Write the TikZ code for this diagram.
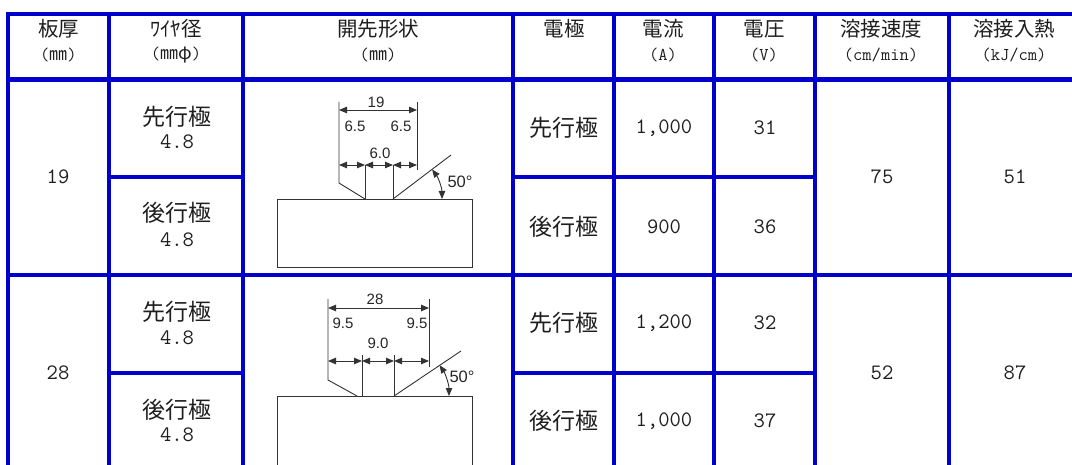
\documentclass[tikz,border=0pt]{standalone}
\usepackage{fontspec}
\usepackage{amsmath}
\usepackage{tikz}
\usetikzlibrary{arrows.meta}
\newfontfamily\jpfont{Noto Sans CJK JP}
\newfontfamily\dimfont{Liberation Sans}
\definecolor{gridblue}{RGB}{0,0,204}
\definecolor{inkgray}{RGB}{30,30,30}
\newcommand{\mmsq}{{\jpfont ㎜}}

\begin{document}
\begin{tikzpicture}[x=1pt, y=-1pt,
        grid/.style={gridblue, line width=3.2pt},
        gridthick/.style={gridblue, line width=4.8pt},
        head/.style={inkgray, inner sep=0pt, font=\jpfont\fontsize{20.5}{24}\selectfont},
        unit/.style={inkgray, inner sep=0pt, font=\ttfamily\fontsize{18}{20}\selectfont},
        cell/.style={inkgray, inner sep=0pt, font=\jpfont\fontsize{23}{26}\selectfont},
        num/.style={inkgray, inner sep=0pt, font=\ttfamily\fontsize{22}{24}\selectfont},
        sketch/.style={black!80, line width=0.9pt},
        dimline/.style={sketch, {Triangle[length=8pt,width=6.5pt]}-{Triangle[length=8pt,width=6.5pt]}},
        dimtext/.style={black!85, inner sep=0pt, font=\dimfont\fontsize{15}{17}\selectfont},
        angtext/.style={dimtext, font=\dimfont\fontsize{16.5}{18}\selectfont}]
        \useasboundingbox (0,0) rectangle (1072,465);
        \clip (0,0) rectangle (1072,465);

        \draw[gridthick] (5.6,14) -- (1080,14);
        \draw[gridthick] (5.6,79.5) -- (1080,79.5);
        \draw[grid] (8,275) -- (1080,275);
        \draw[grid] (109,177) -- (243,177);
        \draw[grid] (513,177) -- (815,177);
        \draw[grid] (109,373) -- (243,373);
        \draw[grid] (513,373) -- (815,373);

        \draw[gridthick] (8,11.6) -- (8,470);
        \draw[grid] (109,14) -- (109,470);
        \draw[grid] (243,14) -- (243,470);
        \draw[grid] (513,14) -- (513,470);
        \draw[grid] (614,14) -- (614,470);
        \draw[grid] (714,14) -- (714,470);
        \draw[grid] (815,14) -- (815,470);
        \draw[grid] (949,14) -- (949,470);

        \node[head] (hThick) at (58.5,29) {板厚};
        \node[unit] (hThickUnit) at (58.5,55) {(\mmsq)};
        \node[head] (hWire) at (176,29) {ﾜｲﾔ径};
        \node[unit] (hWireUnit) at (176,55) {(\mmsq{\jpfont φ})};
        \node[head] (hGroove) at (378,29) {開先形状};
        \node[unit] (hGrooveUnit) at (378,55) {(\mmsq)};
        \node[head] (hElec) at (564,29) {電極};
        \node[head] (hAmp) at (663,29) {電流};
        \node[unit] (hAmpUnit) at (663,55) {(A)};
        \node[head] (hVolt) at (764,29) {電圧};
        \node[unit] (hVoltUnit) at (764,55) {(V)};
        \node[head] (hSpeed) at (881,29) {溶接速度};
        \node[unit] (hSpeedUnit) at (881,55) {(cm/min)};
        \node[head] (hHeat) at (1014,29) {溶接入熱};
        \node[unit] (hHeatUnit) at (1014,55) {(kJ/cm)};

        \node[num] (thick19) at (58,177) {19};
        \node[cell] (wLead19) at (177,117) {先行極};
        \node[num] (wLead19d) at (177,142) {4.8};
        \node[cell] (wTrail19) at (177,213) {後行極};
        \node[num] (wTrail19d) at (177,240) {4.8};
        \node[cell] (eLead19) at (563.5,128) {先行極};
        \node[num] (aLead19) at (664,128) {1,000};
        \node[num] (vLead19) at (765,128) {31};
        \node[cell] (eTrail19) at (563.5,227) {後行極};
        \node[num] (aTrail19) at (664,227) {900};
        \node[num] (vTrail19) at (765,227) {36};
        \node[num] (speed19) at (882,177) {75};
        \node[num] (heat19) at (1015,177) {51};

        \node[num] (thick28) at (58,373) {28};
        \node[cell] (wLead28) at (177,312) {先行極};
        \node[num] (wLead28d) at (177,338) {4.8};
        \node[cell] (wTrail28) at (177,410) {後行極};
        \node[num] (wTrail28d) at (177,435) {4.8};
        \node[cell] (eLead28) at (563.5,323) {先行極};
        \node[num] (aLead28) at (664,323) {1,200};
        \node[num] (vLead28) at (765,323) {32};
        \node[cell] (eTrail28) at (563.5,421) {後行極};
        \node[num] (aTrail28) at (664,421) {1,000};
        \node[num] (vTrail28) at (765,421) {37};
        \node[num] (speed28) at (882,373) {52};
        \node[num] (heat28) at (1015,373) {87};

        \draw[sketch] (277,199) rectangle (472,267);
        \draw[sketch] (339,102) -- (339,183) -- (365,199);
        \draw[sketch] (365,199) -- (365,165);
        \draw[sketch] (393,199) -- (393,165);
        \draw[sketch] (393,199) -- (451,155);
        \draw[sketch] (417,102) -- (417,170);
        \draw[dimline] (339,110) -- (417,110);
        \draw[dimline] (339,165) -- (365,165);
        \draw[dimline] (365,165) -- (393,165);
        \draw[dimline] (393,165) -- (417,165);
        \draw[dimline] (442,199) arc[start angle=0, end angle=37, radius=49pt];

        \node[dimtext] (gap19) at (376,102) {19};
        \node[dimtext] (gap19l) at (355,126) {6.5};
        \node[dimtext] (gap19r) at (401,126) {6.5};
        \node[dimtext] (root19) at (380,153) {6.0};
        \node[angtext] (ang19) at (460,182) {50°};

        \draw[sketch] (277,396) rectangle (472,490);
        \draw[sketch] (328,299) -- (328,380) -- (357,396);
        \draw[sketch] (362,396) -- (362,355);
        \draw[sketch] (394,396) -- (394,355);
        \draw[sketch] (394,396) -- (461,351);
        \draw[sketch] (429,299) -- (429,367);
        \draw[dimline] (328,308) -- (429,308);
        \draw[dimline] (328,361) -- (362,361);
        \draw[dimline] (362,361) -- (394,361);
        \draw[dimline] (394,361) -- (429,361);
        \draw[dimline] (449,396) arc[start angle=0, end angle=34, radius=55pt];

        \node[dimtext] (gap28) at (375,299) {28};
        \node[dimtext] (gap28l) at (343,323) {9.5};
        \node[dimtext] (gap28r) at (417,323) {9.5};
        \node[dimtext] (root28) at (378,343) {9.0};
        \node[angtext] (ang28) at (462,377) {50°};
\end{tikzpicture}
\end{document}
